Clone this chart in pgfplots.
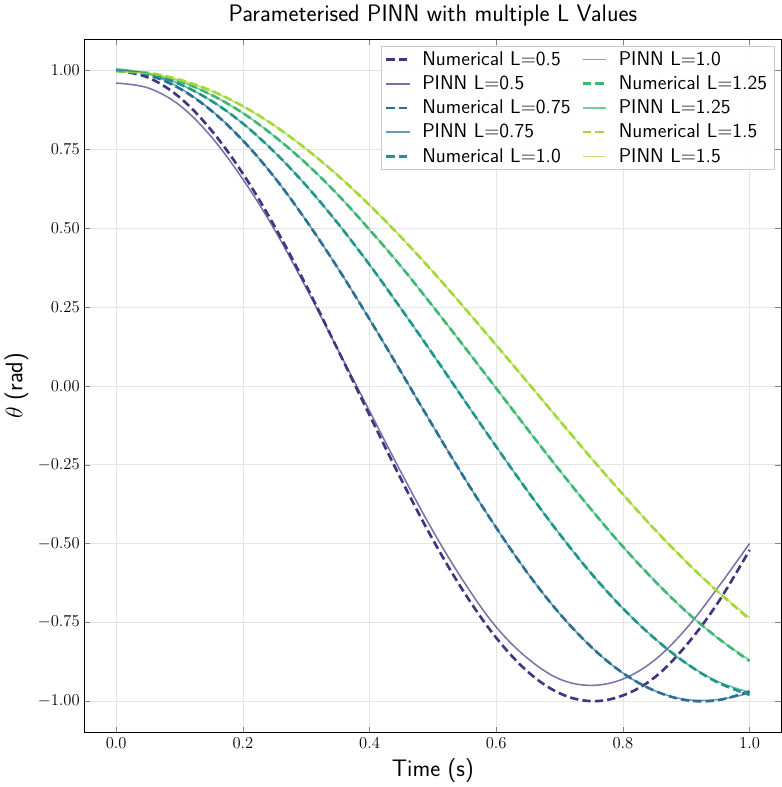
\documentclass[border=0pt]{standalone}
\usepackage{pgfplots}
\pgfplotsset{compat=1.18}
\definecolor{c1}{HTML}{433481}
\definecolor{c2}{HTML}{2A6F95}
\definecolor{c3}{HTML}{1F968B}
\definecolor{c4}{HTML}{3CB874}
\definecolor{c5}{HTML}{A2D83A}
\begin{document}
\begin{tikzpicture}
\begin{axis}[
  scale only axis, width=6.98in, height=6.95in,
  xmin=-0.05, xmax=1.05, ymin=-1.1, ymax=1.1,
  xtick={0,0.2,0.4,0.6,0.8,1.0}, xticklabels={0.0,0.2,0.4,0.6,0.8,1.0},
  ytick={-1,-0.75,-0.5,-0.25,0,0.25,0.5,0.75,1},
  yticklabel style={/pgf/number format/fixed,/pgf/number format/fixed zerofill,/pgf/number format/precision=2},
  tick label style={font=\large},
  grid=major, grid style={gray!20},
  title={\sffamily\LARGE Parameterised PINN with multiple L Values},
  xlabel={\sffamily\LARGE Time (s)}, ylabel={\LARGE$\theta$ \sffamily(rad)},
  legend columns=2,
  legend style={at={(0.99,0.99)}, anchor=north east, font=\sffamily\Large, draw=gray!40, fill=white, fill opacity=0.85, text opacity=1, row sep=2pt, column sep=6pt},
  legend cell align=left,
  every axis plot/.append style={smooth, tension=0.6},
  num/.style={dash pattern=on 6pt off 3pt, line width=1.9pt},
  pinn/.style={opacity=0.7, line width=1.1pt},
]
\addplot[c1, num] coordinates {(0,1)(0.05,0.978)(0.1,0.915)(0.15,0.811)(0.2,0.673)(0.25,0.506)(0.3,0.318)(0.35,0.114)(0.4,-0.093)(0.45,-0.297)(0.5,-0.488)(0.55,-0.657)(0.6,-0.799)(0.65,-0.907)(0.7,-0.975)(0.75,-1.0)(0.8,-0.982)(0.85,-0.925)(0.9,-0.823)(0.95,-0.688)(1,-0.521)};
\addlegendentry{Numerical L=0.5}
\addplot[c3, pinn] coordinates {(0,1.002)(0.05,0.99)(0.1,0.957)(0.15,0.904)(0.2,0.832)(0.25,0.741)(0.3,0.635)(0.35,0.515)(0.4,0.384)(0.45,0.244)(0.5,0.100)(0.55,-0.047)(0.6,-0.193)(0.65,-0.335)(0.7,-0.470)(0.75,-0.595)(0.8,-0.706)(0.85,-0.801)(0.9,-0.880)(0.95,-0.938)(1,-0.972)};
\addlegendentry{PINN L=1.0}
\addplot[c1, pinn] coordinates {(0,0.96)(0.05,0.945)(0.1,0.89)(0.15,0.79)(0.2,0.655)(0.25,0.495)(0.3,0.31)(0.35,0.115)(0.4,-0.08)(0.45,-0.275)(0.5,-0.46)(0.55,-0.625)(0.6,-0.765)(0.65,-0.865)(0.7,-0.93)(0.75,-0.95)(0.8,-0.93)(0.85,-0.87)(0.9,-0.77)(0.95,-0.64)(1,-0.50)};
\addlegendentry{PINN L=0.5}
\addplot[c4, num] coordinates {(0,1)(0.05,0.991)(0.1,0.966)(0.15,0.923)(0.2,0.865)(0.25,0.791)(0.3,0.705)(0.35,0.606)(0.4,0.495)(0.45,0.378)(0.5,0.252)(0.55,0.123)(0.6,-0.008)(0.65,-0.139)(0.7,-0.268)(0.75,-0.392)(0.8,-0.510)(0.85,-0.618)(0.9,-0.716)(0.95,-0.800)(1,-0.873)};
\addlegendentry{Numerical L=1.25}
\addplot[c2, num] coordinates {(0,1)(0.05,0.986)(0.1,0.943)(0.15,0.873)(0.2,0.778)(0.25,0.661)(0.3,0.524)(0.35,0.373)(0.4,0.211)(0.45,0.043)(0.5,-0.127)(0.55,-0.293)(0.6,-0.450)(0.65,-0.595)(0.7,-0.722)(0.75,-0.828)(0.8,-0.911)(0.85,-0.967)(0.9,-0.997)(0.95,-0.997)(1,-0.969)};
\addlegendentry{Numerical L=0.75}
\addplot[c4, pinn] coordinates {(0,1)(0.05,0.991)(0.1,0.966)(0.15,0.923)(0.2,0.865)(0.25,0.791)(0.3,0.705)(0.35,0.606)(0.4,0.495)(0.45,0.378)(0.5,0.252)(0.55,0.123)(0.6,-0.008)(0.65,-0.139)(0.7,-0.268)(0.75,-0.392)(0.8,-0.510)(0.85,-0.618)(0.9,-0.716)(0.95,-0.800)(1,-0.870)};
\addlegendentry{PINN L=1.25}
\addplot[c2, pinn] coordinates {(0,1.005)(0.05,0.99)(0.1,0.945)(0.15,0.874)(0.2,0.778)(0.25,0.661)(0.3,0.524)(0.35,0.373)(0.4,0.211)(0.45,0.043)(0.5,-0.127)(0.55,-0.293)(0.6,-0.450)(0.65,-0.595)(0.7,-0.722)(0.75,-0.828)(0.8,-0.911)(0.85,-0.967)(0.9,-0.995)(0.95,-0.995)(1,-0.975)};
\addlegendentry{PINN L=0.75}
\addplot[c5, num] coordinates {(0,1)(0.05,0.993)(0.1,0.971)(0.15,0.936)(0.2,0.887)(0.25,0.825)(0.3,0.751)(0.35,0.667)(0.4,0.573)(0.45,0.471)(0.5,0.362)(0.55,0.247)(0.6,0.129)(0.65,0.010)(0.7,-0.110)(0.75,-0.229)(0.8,-0.344)(0.85,-0.455)(0.9,-0.558)(0.95,-0.653)(1,-0.740)};
\addlegendentry{Numerical L=1.5}
\addplot[c3, num] coordinates {(0,1)(0.05,0.989)(0.1,0.957)(0.15,0.904)(0.2,0.832)(0.25,0.741)(0.3,0.635)(0.35,0.515)(0.4,0.384)(0.45,0.244)(0.5,0.100)(0.55,-0.047)(0.6,-0.193)(0.65,-0.335)(0.7,-0.470)(0.75,-0.595)(0.8,-0.706)(0.85,-0.801)(0.9,-0.880)(0.95,-0.941)(1,-0.980)};
\addlegendentry{Numerical L=1.0}
\addplot[c5, pinn] coordinates {(0,0.995)(0.05,0.99)(0.1,0.969)(0.15,0.935)(0.2,0.886)(0.25,0.825)(0.3,0.751)(0.35,0.667)(0.4,0.573)(0.45,0.471)(0.5,0.362)(0.55,0.247)(0.6,0.129)(0.65,0.010)(0.7,-0.110)(0.75,-0.229)(0.8,-0.344)(0.85,-0.455)(0.9,-0.558)(0.95,-0.653)(1,-0.735)};
\addlegendentry{PINN L=1.5}
\end{axis}
\end{tikzpicture}
\end{document}
